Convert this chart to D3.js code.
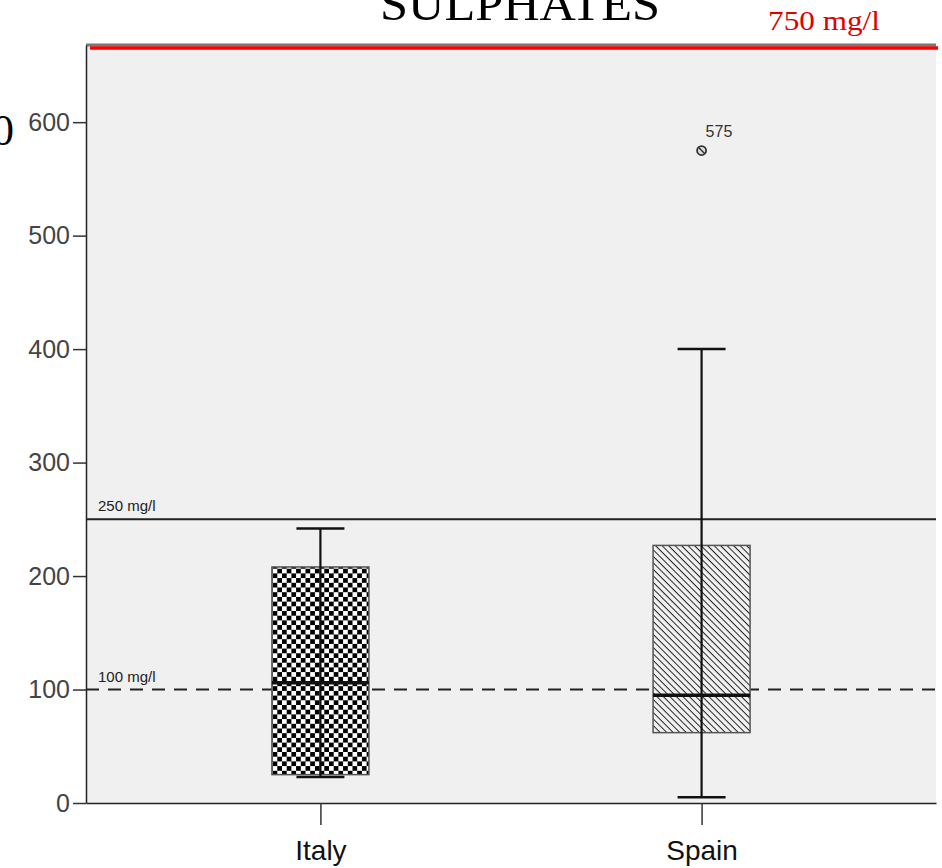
<!DOCTYPE html>
<html><head><meta charset="utf-8">
<script src="https://cdn.jsdelivr.net/npm/d3@7"></script>
<style>body{margin:0;background:#fff}</style>
</head><body><div id="chart"></div>
<script>
const categories = ["Italy", "Spain"];
const whiskerLow = [23, 5];
const q1 = [25, 62];
const median = [106, 95];
const q3 = [208, 227];
const whiskerHigh = [242, 400];
const outliers = [{cat: "Spain", value: 575, label: "575"}];
const refLines = [{value: 250, label: "250 mg/l", dash: false}, {value: 100, label: "100 mg/l", dash: true}];
const yTicks = [0, 100, 200, 300, 400, 500, 600];
const yMax = 668;
const title = "SULPHATES";
const limitLabel = "750 mg/l";

const W = 942, H = 868;
const m = {left: 86, right: 6, top: 45, bottom: 65};
const svg = d3.select("#chart").append("svg").attr("width", W).attr("height", H);

const y = d3.scaleLinear().domain([0, yMax]).range([H - m.bottom, m.top]);
const x = d3.scalePoint().domain(categories).range([m.left, W - m.right]).padding(0.615);
const cx = c => x(c);
const boxW = 97;

// patterns
const defs = svg.append("defs");
const chk = defs.append("pattern").attr("id", "chk").attr("patternUnits", "userSpaceOnUse")
  .attr("width", 9.4).attr("height", 9.4);
chk.append("rect").attr("width", 9.4).attr("height", 9.4).attr("fill", "#fff");
chk.append("rect").attr("width", 4.7).attr("height", 4.7).attr("fill", "#000");
chk.append("rect").attr("x", 4.7).attr("y", 4.7).attr("width", 4.7).attr("height", 4.7).attr("fill", "#000");
const hat = defs.append("pattern").attr("id", "hat").attr("patternUnits", "userSpaceOnUse")
  .attr("width", 4.6).attr("height", 4.6).attr("patternTransform", "rotate(45)");
hat.append("rect").attr("width", 4.6).attr("height", 4.6).attr("fill", "#f2f2f2");
hat.append("line").attr("x1", 0).attr("y1", 0).attr("x2", 4.6).attr("y2", 0).attr("stroke", "#222").attr("stroke-width", 2);
const fills = {Italy: "url(#chk)", Spain: "url(#hat)"};

// plot background
svg.append("rect").attr("x", m.left).attr("y", m.top).attr("width", W - m.right - m.left)
  .attr("height", y(0) - m.top).attr("fill", "#f0f0f0");
svg.append("line").attr("x1", m.left).attr("x2", W - m.right).attr("y1", m.top).attr("y2", m.top)
  .attr("stroke", "#777").attr("stroke-width", 3);

// title
svg.append("text").attr("x", 520).attr("y", 20).attr("text-anchor", "middle")
  .attr("font-family", "Liberation Serif").attr("font-size", 46).attr("textLength", 280)
  .attr("lengthAdjust", "spacingAndGlyphs").text(title);
svg.append("text").attr("x", 824).attr("y", 30).attr("text-anchor", "middle")
  .attr("font-family", "Liberation Serif").attr("font-size", 27).attr("fill", "#e00000")
  .attr("textLength", 112).attr("lengthAdjust", "spacingAndGlyphs").text(limitLabel);
svg.append("text").attr("x", -8).attr("y", 145)
  .attr("font-family", "Liberation Serif").attr("font-size", 44).text("0");

// y axis
const yAxis = svg.append("g").attr("transform", `translate(${m.left},0)`)
  .call(d3.axisLeft(y).tickValues(yTicks).tickSize(13).tickPadding(3).tickSizeOuter(0));
yAxis.select(".domain").attr("stroke", "#222").attr("stroke-width", 1.5);
yAxis.selectAll(".tick line").attr("stroke", "#333").attr("stroke-width", 1.5);
yAxis.selectAll("text").attr("font-family", "Liberation Sans").attr("font-size", 25).attr("fill", "#444");

// x axis
const xAxis = svg.append("g").attr("transform", `translate(0,${y(0)})`)
  .call(d3.axisBottom(x).tickSize(22).tickPadding(10).tickSizeOuter(0));
xAxis.select(".domain").attr("stroke", "#222").attr("stroke-width", 1.5);
xAxis.selectAll(".tick line").attr("stroke", "#333").attr("stroke-width", 1.5);
xAxis.selectAll("text").attr("font-family", "Liberation Sans").attr("font-size", 28).attr("fill", "#111").attr("dy", "0.9em");

// ref lines
refLines.forEach(r => {
  svg.append("line").attr("x1", m.left).attr("x2", W - m.right).attr("y1", y(r.value)).attr("y2", y(r.value))
    .attr("stroke", "#222").attr("stroke-width", 2).attr("stroke-dasharray", r.dash ? "13,9" : null);
  svg.append("text").attr("x", m.left + 12).attr("y", y(r.value) - 8)
    .attr("font-family", "Liberation Sans").attr("font-size", 15).attr("fill", "#222").text(r.label);
});

// red limit line
svg.append("line").attr("x1", m.left + 4).attr("x2", W - 4).attr("y1", y(yMax) + 3).attr("y2", y(yMax) + 3)
  .attr("stroke", "#ff0000").attr("stroke-width", 3.5);

// boxes
categories.forEach((c, i) => {
  const xc = cx(c);
  svg.append("rect").attr("x", xc - boxW / 2).attr("y", y(q3[i])).attr("width", boxW)
    .attr("height", y(q1[i]) - y(q3[i])).attr("fill", fills[c]).attr("stroke", "#555").attr("stroke-width", 1.5);
  svg.append("line").attr("x1", xc).attr("x2", xc).attr("y1", y(whiskerLow[i])).attr("y2", y(whiskerHigh[i]))
    .attr("stroke", "#111").attr("stroke-width", 2.2);
  [whiskerLow[i], whiskerHigh[i]].forEach(v => {
    svg.append("line").attr("x1", xc - 24).attr("x2", xc + 24).attr("y1", y(v)).attr("y2", y(v))
      .attr("stroke", "#111").attr("stroke-width", 2.5);
  });
  svg.append("line").attr("x1", xc - boxW / 2).attr("x2", xc + boxW / 2).attr("y1", y(median[i])).attr("y2", y(median[i]))
    .attr("stroke", "#111").attr("stroke-width", 3.5);
});

// outliers
outliers.forEach(o => {
  const xc = cx(o.cat), yy = y(o.value);
  svg.append("circle").attr("cx", xc).attr("cy", yy).attr("r", 4.5).attr("fill", "#ddd").attr("stroke", "#333").attr("stroke-width", 1.8);
  svg.append("line").attr("x1", xc - 3).attr("y1", yy - 3).attr("x2", xc + 3).attr("y2", yy + 3).attr("stroke", "#333").attr("stroke-width", 1.5);
  svg.append("text").attr("x", xc + 4).attr("y", yy - 14).attr("font-family", "Liberation Sans")
    .attr("font-size", 16).attr("fill", "#333").text(o.label);
});
</script></body></html>
